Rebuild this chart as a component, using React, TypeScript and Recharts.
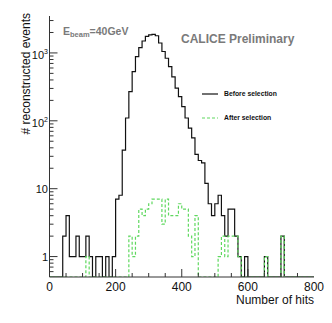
import React from 'react';
import { LineChart, Line, XAxis, YAxis, Legend } from 'recharts';

// ---- data -------------------------------------------------------------
const BIN_WIDTH = 10;
const X_MIN = 0;
const X_MAX = 800;
const Y_MIN = 0.5;
const Y_MAX = 3500;

// events per 10-hit bin, bins starting at 0, 10, 20, ... 790
const beforeSelection = [
  0, 0, 0, 0, 2, 4, 1, 1, 2, 1,
  1, 2, 1, 0, 1, 1, 0, 1, 0, 1,
  7, 8, 37, 110, 270, 530, 880, 1200, 1500, 1750,
  1850, 1880, 1790, 1400, 1050, 835, 630, 445, 303, 227,
  162, 110, 78, 56, 32, 26, 24, 12, 6, 4,
  6, 8, 4, 2, 5, 5, 2, 1, 0, 1,
  0, 0, 0, 0, 0, 1, 0, 0, 0, 0,
  2, 0, 0, 0, 0, 0, 0, 0, 0, 0,
];

const afterSelection = [
  0, 0, 0, 0, 0, 0, 0, 0, 0, 0,
  0, 1, 0, 0, 0, 0, 0, 0, 0, 0,
  0, 0, 0, 0, 2, 1, 2, 5, 4, 5,
  6, 7, 7, 7, 3, 7, 4, 4, 4, 6,
  5, 5, 2, 1, 4, 0, 0, 0, 0, 0,
  0, 1, 2, 1, 2, 2, 2, 1, 0, 0,
  0, 0, 0, 0, 0, 1, 0, 0, 0, 0,
  2, 0, 0, 0, 0, 0, 0, 0, 0, 0,
];

const seriesNames = ['Before selection', 'After selection'];

const xTicks = [0, 50, 100, 150, 200, 250, 300, 350, 400, 450, 500, 550, 600, 650, 700, 750, 800];
const xLabelTicks = [0, 200, 400, 600, 800];

const yTicks = [
  0.5, 0.6, 0.7, 0.8, 0.9,
  1, 2, 3, 4, 5, 6, 7, 8, 9,
  10, 20, 30, 40, 50, 60, 70, 80, 90,
  100, 200, 300, 400, 500, 600, 700, 800, 900,
  1000, 2000, 3000,
];
const yMajorTicks = [1, 10, 100, 1000];
const yTickLabels: Record<number, [string, string]> = {
  1: ['1', ''],
  10: ['10', ''],
  100: ['10', '2'],
  1000: ['10', '3'],
};

const xTitle = 'Number of hits';
const yTitle = '# reconstructed events';
const beamLabel = ['E', 'beam', '=40GeV'];
const caliceLabel = 'CALICE Preliminary';

// ---- build table for the library ---------------------------------------
const data: { x: number; before: number; after: number }[] = beforeSelection.map((v, i) => ({
  x: X_MIN + i * BIN_WIDTH,
  before: Math.max(v, Y_MIN),
  after: Math.max(afterSelection[i], Y_MIN),
}));
data.push({
  x: X_MAX,
  before: Math.max(beforeSelection[beforeSelection.length - 1], Y_MIN),
  after: Math.max(afterSelection[afterSelection.length - 1], Y_MIN),
});

// ---- styles ------------------------------------------------------------
const FONT = '"Liberation Sans", Arial, Helvetica, sans-serif';
const FRAME = '#333';
const BLACK_LINE = '#111';
const GREEN_LINE = '#5fd85f';
const GRAY_TEXT = '#7a7a7a';

const isMajorX = (v: number) => xLabelTicks.includes(v);

const BottomTick = (props: any) => {
  const { x, y, payload } = props;
  const v = payload.value;
  const len = isMajorX(v) ? 8 : 4;
  return (
    <g>
      {v > X_MIN && v < X_MAX && <line x1={x} x2={x} y1={y} y2={y - len} stroke={FRAME} strokeWidth={1} />}
      {isMajorX(v) && (
        <text x={x} y={y + 14} textAnchor="middle" fontSize={12} fontFamily={FONT} fill="#111">
          {v}
        </text>
      )}
    </g>
  );
};

const TopTick = (props: any) => {
  const { x, y, payload } = props;
  const v = payload.value;
  const len = isMajorX(v) ? 8 : 4;
  if (v <= X_MIN || v >= X_MAX) return <g />;
  return <line x1={x} x2={x} y1={y} y2={y + len} stroke={FRAME} strokeWidth={1} />;
};

const LeftTick = (props: any) => {
  const { x, y, payload } = props;
  const v = payload.value;
  const major = yMajorTicks.includes(v);
  const len = major ? 8 : 4;
  const lab = yTickLabels[v];
  return (
    <g>
      {v > Y_MIN && <line x1={x} x2={x + len} y1={y} y2={y} stroke={FRAME} strokeWidth={1} />}
      {lab && (
        <text x={x - 1.5} y={y + (lab[1] ? 6 : 4)} textAnchor="end" fontSize={11} fontFamily={FONT} fill="#111">
          {lab[0]}
          {lab[1] && (
            <tspan dy={-5} fontSize={7}>
              {lab[1]}
            </tspan>
          )}
        </text>
      )}
    </g>
  );
};

const RightTick = (props: any) => {
  const { x, y, payload } = props;
  const v = payload.value;
  const major = yMajorTicks.includes(v);
  const len = major ? 8 : 4;
  if (v <= Y_MIN) return <g />;
  return <line x1={x} x2={x - len} y1={y} y2={y} stroke={FRAME} strokeWidth={1} />;
};

const renderLegend = (props: any) => {
  const payload = props.payload || [];
  const ordered = seriesNames
    .map((n) => payload.find((e: any) => e.value === n))
    .filter(Boolean);
  return (
    <svg width={90} height={40} style={{ overflow: 'visible', display: 'block' }}>
      {ordered.map((entry: any, i: number) => {
        const yy = 4 + i * 24;
        const dash = entry.payload && entry.payload.strokeDasharray;
        return (
          <g key={i}>
            <line x1={0} x2={16} y1={yy} y2={yy} stroke={entry.color} strokeWidth={1.2} strokeDasharray={dash} />
            <text x={22} y={yy + 2.4} fontSize={6.8} fontWeight="bold" fontFamily={FONT} fill="#111">
              {entry.value}
            </text>
          </g>
        );
      })}
    </svg>
  );
};

export default function App() {
  return (
    <div style={{ position: 'absolute', left: 0, top: 0, width: 332, height: 323, background: '#fff' }}>
      <LineChart width={332} height={323} data={data} margin={{ top: 16, right: 18, bottom: 0, left: 0 }}>
        <XAxis
          dataKey="x"
          type="number"
          domain={[X_MIN, X_MAX]}
          allowDataOverflow
          ticks={xTicks}
          interval={0}
          tickSize={0}
          tickMargin={0}
          tick={BottomTick}
          tickLine={false}
          axisLine={{ stroke: FRAME }}
          height={46}
        />
        <XAxis
          xAxisId="top"
          orientation="top"
          dataKey="x"
          type="number"
          domain={[X_MIN, X_MAX]}
          allowDataOverflow
          ticks={xTicks}
          interval={0}
          tickSize={0}
          tickMargin={0}
          tick={TopTick}
          tickLine={false}
          axisLine={{ stroke: FRAME }}
          height={0}
        />
        <YAxis
          scale="log"
          type="number"
          domain={[Y_MIN, Y_MAX]}
          allowDataOverflow
          ticks={yTicks}
          interval={0}
          tickSize={0}
          tickMargin={0}
          tick={LeftTick}
          tickLine={false}
          axisLine={{ stroke: FRAME }}
          width={49.5}
        />
        <YAxis
          yAxisId="right"
          orientation="right"
          scale="log"
          type="number"
          domain={[Y_MIN, Y_MAX]}
          allowDataOverflow
          ticks={yTicks}
          interval={0}
          tickSize={0}
          tickMargin={0}
          tick={RightTick}
          tickLine={false}
          axisLine={{ stroke: FRAME }}
          width={0}
        />
        <Legend
          layout="vertical"
          align="center"
          verticalAlign="middle"
          content={renderLegend}
          wrapperStyle={{ left: 202, top: 89.7, width: 90, height: 40 }}
        />
        <Line
          dataKey="before"
          name={seriesNames[0]}
          type="stepAfter"
          stroke={BLACK_LINE}
          strokeWidth={1.2}
          dot={false}
          activeDot={false}
          isAnimationActive={false}
        />
        <Line
          dataKey="after"
          name={seriesNames[1]}
          type="stepAfter"
          stroke={GREEN_LINE}
          strokeWidth={1.2}
          strokeDasharray="3 2"
          dot={false}
          activeDot={false}
          isAnimationActive={false}
        />
      </LineChart>
      <svg
        width={332}
        height={323}
        style={{ position: 'absolute', left: 0, top: 0, pointerEvents: 'none' }}
        fontFamily={FONT}
      >
        <text x={314} y={304} textAnchor="end" fontSize={12} fill="#111">
          {xTitle}
        </text>
        <text x={30} y={13} transform="rotate(-90 30 13)" textAnchor="end" fontSize={12} fill="#111">
          {yTitle}
        </text>
        <text x={63} y={35} fontSize={10.5} fontWeight="bold" fill={GRAY_TEXT}>
          {beamLabel[0]}
          <tspan fontSize={7.5} dy={2}>
            {beamLabel[1]}
          </tspan>
          <tspan dy={-2}>{beamLabel[2]}</tspan>
        </text>
        <text x={181} y={43} fontSize={12} fontWeight="bold" fill={GRAY_TEXT}>
          {caliceLabel}
        </text>
      </svg>
    </div>
  );
}
